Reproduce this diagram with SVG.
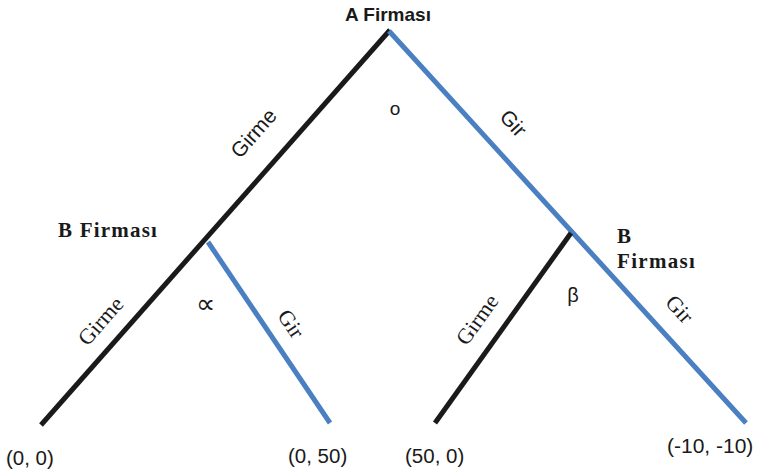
<svg xmlns="http://www.w3.org/2000/svg" width="758" height="473" viewBox="0 0 758 473">
<style>
.blk{stroke:#1a1a1a;stroke-width:5;fill:none;stroke-linecap:butt}
.blu{stroke:#4a7fc1;stroke-width:5;fill:none;stroke-linecap:butt}
.sans{font-family:"Liberation Sans","Open Sans",sans-serif;fill:#1a1a1a}
.serif{font-family:"Liberation Serif","DejaVu Serif",serif;fill:#1a1a1a}
.bold{font-weight:bold}
</style>
<rect width="758" height="473" fill="#fff"/>
<g id="connectors">
<line class="blk" x1="390" y1="30" x2="41" y2="425"/>
<line class="blu" x1="389" y1="31" x2="746" y2="423"/>
<line class="blu" x1="208" y1="242" x2="330" y2="423"/>
<line class="blk" x1="571" y1="233" x2="435" y2="423"/>
</g>
<g id="nodeA">
<text class="sans bold" x="388" y="21" font-size="19" text-anchor="middle">A Firması</text>
<text class="sans" x="395" y="115" font-size="19" text-anchor="middle">o</text>
</g>
<g id="edgeA-Girme">
<text class="sans" font-size="21" text-anchor="middle" transform="translate(259,138) rotate(-48.5)">Girme</text>
</g>
<g id="edgeA-Gir">
<text class="sans" font-size="21" text-anchor="middle" transform="translate(508,128) rotate(47.7)">Gir</text>
</g>
<g id="nodeB1">
<text class="serif bold" x="58" y="237" font-size="21" letter-spacing="1.2">B Firması</text>
<text class="sans" x="205" y="313" font-size="27" text-anchor="middle">∝</text>
</g>
<g id="edgeB1-Girme">
<text class="serif" font-size="22" text-anchor="middle" transform="translate(106,326) rotate(-48.5)">Girme</text>
</g>
<g id="edgeB1-Gir">
<text class="serif" font-size="22" text-anchor="middle" transform="translate(285,328) rotate(56)">Gir</text>
</g>
<g id="nodeB2">
<text class="serif bold" x="617" y="243" font-size="21">B</text>
<text class="serif bold" x="617" y="268" font-size="21" letter-spacing="1.3">Firması</text>
<text class="sans" x="573" y="302" font-size="20" text-anchor="middle">β</text>
</g>
<g id="edgeB2-Girme">
<text class="serif" font-size="22" text-anchor="middle" transform="translate(483,324) rotate(-54.4)">Girme</text>
</g>
<g id="edgeB2-Gir">
<text class="serif" font-size="22" text-anchor="middle" transform="translate(674,314) rotate(47.7)">Gir</text>
</g>
<g id="payoffs">
<text class="sans" x="6" y="465" font-size="20.5">(0, 0)</text>
<text class="sans" x="288" y="463" font-size="20.5">(0, 50)</text>
<text class="sans" x="405" y="463" font-size="20.5">(50, 0)</text>
<text class="sans" x="667" y="453" font-size="21">(-10, -10)</text>
</g>
</svg>
